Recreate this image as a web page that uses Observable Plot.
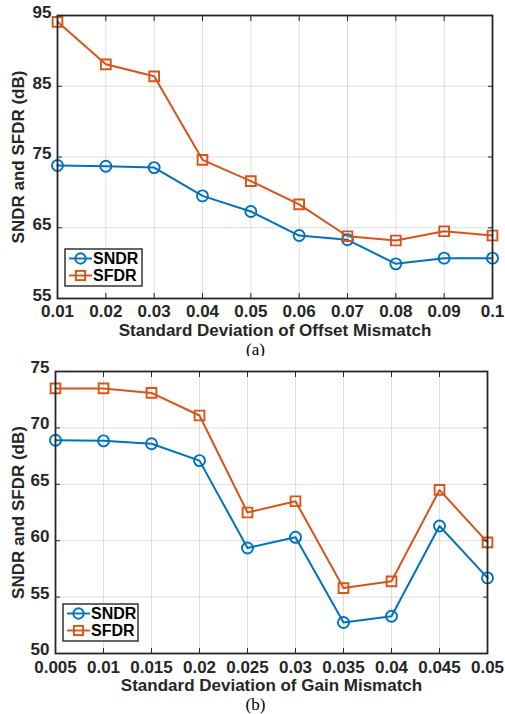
<!DOCTYPE html>
<html>
<head>
<meta charset="utf-8">
<script src="https://cdn.jsdelivr.net/npm/d3@7"></script>
<script src="https://cdn.jsdelivr.net/npm/@observablehq/plot@0.6"></script>
<style>
  html, body { margin: 0; padding: 0; background: #fff; }
  body { width: 505px; height: 714px; position: relative; overflow: hidden; }
  .panel { position: absolute; left: 0; width: 505px; }
  .cap { position: absolute; left: 0; width: 505px; text-align: center; font-family: "Liberation Serif", "Times New Roman", serif; font-size: 17px; line-height: 18px; color: #000; }
</style>
</head>
<body>
<div id="a" class="panel" style="top:0px"></div>
<div class="cap" style="top:341px; left:3px">(a)</div>
<div id="b" class="panel" style="top:356px"></div>
<div class="cap" style="top:696px; left:3px">(b)</div>
<script>
// ---- Panel (a): offset mismatch ----
const offsetX = [0.01, 0.02, 0.03, 0.04, 0.05, 0.06, 0.07, 0.08, 0.09, 0.1];
const offsetSNDR = [73.8, 73.7, 73.5, 69.5, 67.3, 63.9, 63.3, 59.9, 60.7, 60.7];
const offsetSFDR = [94.1, 88.1, 86.4, 74.6, 71.6, 68.3, 63.8, 63.2, 64.5, 63.9];
const offsetXTicks = [0.01, 0.02, 0.03, 0.04, 0.05, 0.06, 0.07, 0.08, 0.09, 0.1];
const offsetXTickLabels = ["0.01", "0.02", "0.03", "0.04", "0.05", "0.06", "0.07", "0.08", "0.09", "0.1"];
const offsetYTicks = [55, 65, 75, 85, 95];

// ---- Panel (b): gain mismatch ----
const gainX = [0.005, 0.01, 0.015, 0.02, 0.025, 0.03, 0.035, 0.04, 0.045, 0.05];
const gainSNDR = [68.9, 68.85, 68.6, 67.1, 59.35, 60.3, 52.75, 53.3, 61.3, 56.7];
const gainSFDR = [73.5, 73.5, 73.1, 71.1, 62.5, 63.5, 55.8, 56.4, 64.5, 59.85];
const gainXTicks = [0.005, 0.01, 0.015, 0.02, 0.025, 0.03, 0.035, 0.04, 0.045, 0.05];
const gainXTickLabels = ["0.005", "0.01", "0.015", "0.02", "0.025", "0.03", "0.035", "0.04", "0.045", "0.05"];
const gainYTicks = [50, 55, 60, 65, 70, 75];

const seriesNames = ["SNDR", "SFDR"];
const seriesColors = ["#0072BD", "#D95319"];
const yLabel = "SNDR and SFDR (dB)";

function makeChart(cfg) {
  const rows = cfg.xs.flatMap((x, i) => [
    {x, y: cfg.sndr[i], s: "SNDR"},
    {x, y: cfg.sfdr[i], s: "SFDR"}
  ]);
  const fmt = d => cfg.xLabels[cfg.xTicks.indexOf(d)];
  const axisCol = "#262626";
  const chart = Plot.plot({
    width: 505,
    height: cfg.height,
    marginLeft: cfg.ml, marginRight: cfg.mr, marginTop: cfg.mt, marginBottom: cfg.mb,
    style: {fontFamily: "'Liberation Sans', Arial, sans-serif", fontWeight: "bold", fontSize: "17px", color: axisCol, background: "#fff"},
    x: {domain: [cfg.xTicks[0], cfg.xTicks[cfg.xTicks.length - 1]]},
    y: {domain: [cfg.yTicks[0], cfg.yTicks[cfg.yTicks.length - 1]]},
    color: {domain: seriesNames, range: seriesColors},
    marks: [
      Plot.gridX(cfg.xTicks, {stroke: axisCol, strokeOpacity: 0.15, strokeWidth: 1}),
      Plot.gridY(cfg.yTicks, {stroke: axisCol, strokeOpacity: 0.15, strokeWidth: 1}),
      Plot.line(rows, {x: "x", y: "y", z: "s", stroke: "s", strokeWidth: 2}),
      Plot.dot(rows.filter(d => d.s === "SNDR"), {x: "x", y: "y", stroke: "s", r: 5.5, strokeWidth: 1.9, symbol: "circle", fill: "none"}),
      Plot.dot(rows.filter(d => d.s === "SFDR"), {x: "x", y: "y", stroke: "s", r: 5.5, strokeWidth: 1.9, symbol: "square", fill: "none"}),
      // tick labels and axis titles
      Plot.axisX(cfg.xTicks, {tickSize: 0, tickPadding: cfg.xpad, tickFormat: fmt, fontSize: 17, label: cfg.xLabel, labelAnchor: "center", labelArrow: "none", labelOffset: cfg.xlo, fontWeight: "bold"}),
      Plot.axisY(cfg.yTicks, {tickSize: 0, tickPadding: 6, fontSize: 17, dy: cfg.ydy, label: yLabel, labelAnchor: "center", labelArrow: "none", labelOffset: cfg.ylo, fontWeight: "bold"}),
      // inward ticks on all four sides
      Plot.axisX(cfg.xTicks, {anchor: "bottom", tickSize: 5, dy: -5, tickFormat: () => "", label: null, stroke: axisCol}),
      Plot.axisX(cfg.xTicks, {anchor: "top", tickSize: 5, dy: 5, tickFormat: () => "", label: null, stroke: axisCol}),
      Plot.axisY(cfg.yTicks, {anchor: "left", tickSize: 5, dx: 5, tickFormat: () => "", label: null, stroke: axisCol}),
      Plot.axisY(cfg.yTicks, {anchor: "right", tickSize: 5, dx: -5, tickFormat: () => "", label: null, stroke: axisCol}),
      Plot.frame({stroke: axisCol, strokeWidth: 1.8})
    ]
  });
  // legend box (MATLAB style, bottom-left inside the axes)
  const svg = d3.select(chart);
  const L = cfg.legend;
  const g = svg.append("g");
  g.append("rect").attr("x", L.x).attr("y", L.y).attr("width", L.w).attr("height", L.h)
    .attr("fill", "#fff").attr("stroke", axisCol).attr("stroke-width", 1.4);
  seriesNames.forEach((name, i) => {
    const cy = L.y + L.row0 + i * L.rowGap;
    const col = seriesColors[i];
    g.append("line").attr("x1", L.x + 4).attr("x2", L.x + 27).attr("y1", cy).attr("y2", cy)
      .attr("stroke", col).attr("stroke-width", 1.9);
    if (i === 0) {
      g.append("circle").attr("cx", L.x + 15.5).attr("cy", cy).attr("r", 5.2)
        .attr("fill", "none").attr("stroke", col).attr("stroke-width", 1.9);
    } else {
      g.append("rect").attr("x", L.x + 15.5 - 4.6).attr("y", cy - 4.6).attr("width", 9.2).attr("height", 9.2)
        .attr("fill", "none").attr("stroke", col).attr("stroke-width", 1.9);
    }
    g.append("text").attr("x", L.x + 28).attr("y", cy).attr("dy", "0.36em")
      .attr("text-anchor", "start")
      .attr("font-size", 16).attr("font-weight", "bold").attr("fill", "#000").text(name);
  });
  return chart;
}

document.getElementById("a").append(makeChart({
  xs: offsetX, sndr: offsetSNDR, sfdr: offsetSFDR,
  xTicks: offsetXTicks, xLabels: offsetXTickLabels, yTicks: offsetYTicks,
  xLabel: "Standard Deviation of Offset Mismatch",
  height: 340, ml: 57, mr: 13, mt: 15, mb: 42, xlo: 37, ylo: 46, xpad: 6, ydy: -3,
  legend: {x: 65, y: 249, w: 77, h: 37, row0: 9.5, rowGap: 17}
}));

document.getElementById("b").append(makeChart({
  xs: gainX, sndr: gainSNDR, sfdr: gainSFDR,
  xTicks: gainXTicks, xLabels: gainXTickLabels, yTicks: gainYTicks,
  xLabel: "Standard Deviation of Gain Mismatch",
  height: 339, ml: 55, mr: 18, mt: 15, mb: 42, xlo: 37, ylo: 44, xpad: 7, ydy: -4,
  legend: {x: 63, y: 248, w: 75, h: 37, row0: 9.5, rowGap: 17}
}));
</script>
</body>
</html>
